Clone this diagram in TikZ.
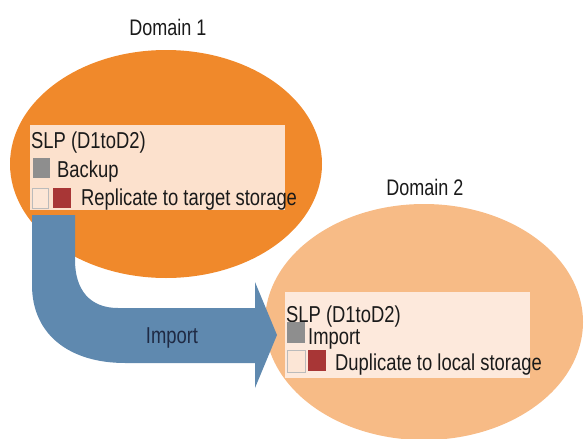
\documentclass[tikz,border=0pt]{standalone}
\usepackage{fontspec}
\setmainfont{Liberation Sans}[FakeStretch=0.8]
\usetikzlibrary{shapes.geometric}
\definecolor{orDark}{HTML}{F0892B}
\definecolor{orLight}{HTML}{F7BB86}
\definecolor{boxA}{HTML}{FCE1CD}
\definecolor{boxB}{HTML}{FDE9DC}
\definecolor{arrBlue}{HTML}{5F89AF}
\definecolor{sqGray}{HTML}{8E8E8E}
\definecolor{sqRed}{HTML}{A83636}
\definecolor{sqLight}{HTML}{FCE6D6}
\definecolor{txt}{HTML}{1A1A1A}
\definecolor{navy}{HTML}{1F2A44}
\tikzset{
  dom/.style={ellipse, draw=none, inner sep=0pt},
  slpbox/.style={rectangle, draw=none, inner sep=0pt, anchor=north west},
  sq/.style={rectangle, inner sep=0pt, anchor=north west},
  lbl/.style={anchor=base west, inner sep=0pt, text=txt, font=\fontsize{23}{26}\selectfont},
  title/.style={anchor=base, inner sep=0pt, text=txt, font=\fontsize{22.5}{26}\selectfont},
}
\begin{document}
\begin{tikzpicture}[x=1pt, y=-1pt]
\useasboundingbox (0,0) rectangle (584,439);
% ellipses
\node[dom, fill=orDark, minimum width=312pt, minimum height=228pt] (d1) at (166,164) {};
\node[dom, fill=orLight, minimum width=318pt, minimum height=236pt] (d2) at (424,322) {};
% titles
\node[title] (t1) at (168,35) {Domain 1};
\node[title] (t2) at (425,195) {Domain 2};
% arrow
\fill[arrBlue] (32,215) -- (32,285) .. controls (32,335) and (70,363) .. (125,363)
  -- (255,363) -- (255,388) -- (277,335) -- (255,282) -- (255,308) -- (118,308)
  .. controls (90,308) and (75,290) .. (75,260) -- (75,215) -- cycle;
\node[anchor=base, inner sep=0pt, text=navy, font=\fontsize{23}{26}\selectfont] (imp) at (172,343) {Import};
% box 1
\node[slpbox, fill=boxA, minimum width=255pt, minimum height=85pt] (b1) at (30,125) {};
\node[lbl] (b1t) at (31,148) {SLP (D1toD2)};
\node[sq, fill=sqGray, minimum width=17pt, minimum height=20pt] (b1g) at (33,158) {};
\node[lbl] (b1a) at (57,177) {Backup};
\node[sq, fill=sqLight, draw=sqGray!60, line width=0.6pt, minimum width=16pt, minimum height=20pt] (b1l) at (32,188) {};
\node[sq, fill=sqRed, minimum width=18pt, minimum height=20pt] (b1r) at (53,188) {};
\node[lbl] (b1b) at (81,205) {Replicate to target storage};
% box 2
\node[slpbox, fill=boxB, minimum width=245pt, minimum height=86pt] (b2) at (285,292) {};
\node[lbl] (b2t) at (286,322) {SLP (D1toD2)};
\node[sq, fill=sqGray, minimum width=18pt, minimum height=21pt] (b2g) at (287,322) {};
\node[lbl] (b2a) at (308,344) {Import};
\node[sq, fill=sqLight, draw=sqGray!60, line width=0.6pt, minimum width=18pt, minimum height=22pt] (b2l) at (287,350) {};
\node[sq, fill=sqRed, minimum width=18pt, minimum height=21pt] (b2r) at (308,350) {};
\node[lbl] (b2b) at (335,370) {Duplicate to local storage};
\end{tikzpicture}
\end{document}
